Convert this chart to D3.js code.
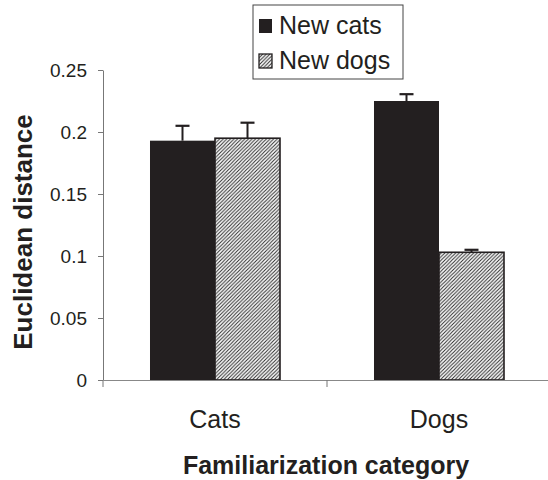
<html>
<head>
<script src="https://cdn.jsdelivr.net/npm/d3@7"></script>
<style>
  body { margin: 0; background: #fff; }
  text { font-family: Arial, "Liberation Sans", sans-serif; fill: #231f20; }
</style>
</head>
<body>
<script>
let categories = ["Cats", "Dogs"]
let series = ["New cats", "New dogs"]
let means = [[0.193, 0.195], [0.225, 0.103]]   // [category][series]
let errors = [[0.012, 0.0125], [0.0055, 0.002]]
let yTicks = [0, 0.05, 0.1, 0.15, 0.2, 0.25]
let yTickLabels = ["0", "0.05", "0.1", "0.15", "0.2", "0.25"]

let w = 548
let h = 480
let ink = "#231f20"

let svg = d3.select("body").append("svg")
    .attr("width", w).attr("height", h)

let defs = svg.append("defs")
let pat = defs.append("pattern")
    .attr("id", "hatch")
    .attr("patternUnits", "userSpaceOnUse")
    .attr("width", 3.6).attr("height", 3.6)
pat.append("rect").attr("width", 3.6).attr("height", 3.6).attr("fill", "#fff")
pat.append("path")
    .attr("d", "M-1,1 l2,-2 M0,3.6 l3.6,-3.6 M2.6,4.6 l2,-2")
    .attr("stroke", "#2a2a2a").attr("stroke-width", 1)

let x0 = d3.scaleBand().domain(categories).range([103, 551])
let x1 = d3.scaleBand().domain(series).range([0, x0.bandwidth()]).paddingOuter(0.723)
let y = d3.scaleLinear().domain([0, 0.25]).range([380, 70])

let fills = [ink, "url(#hatch)"]

// y axis
let yAxis = d3.axisLeft(y).tickValues(yTicks)
    .tickFormat((d, i) => yTickLabels[i]).tickSize(5).tickSizeOuter(0)
let ya = svg.append("g").attr("transform", "translate(103,0)").call(yAxis)
ya.select(".domain").attr("stroke", "#777")
ya.selectAll(".tick line").attr("stroke", "#777")
ya.selectAll(".tick text").attr("x", -16).attr("font-size", 19).attr("fill", ink)
    .attr("font-family", "Arial, 'Liberation Sans', sans-serif")

// bars
categories.forEach((c, ci) => {
    let g = svg.append("g").attr("transform", "translate(" + x0(c) + ",0)")
    series.forEach((s, si) => {
        g.append("rect")
            .attr("x", x1(s))
            .attr("y", y(means[ci][si]))
            .attr("width", x1.bandwidth())
            .attr("height", y(0) - y(means[ci][si]))
            .attr("fill", fills[si])
            .attr("stroke", ink)
            .attr("stroke-width", si === 1 ? 1.6 : 0)
        let cx = x1(s) + x1.bandwidth() / 2
        g.append("line")
            .attr("x1", cx).attr("x2", cx)
            .attr("y1", y(means[ci][si])).attr("y2", y(means[ci][si] + errors[ci][si]))
            .attr("stroke", ink).attr("stroke-width", 2)
        g.append("line")
            .attr("x1", cx - 7).attr("x2", cx + 7)
            .attr("y1", y(means[ci][si] + errors[ci][si])).attr("y2", y(means[ci][si] + errors[ci][si]))
            .attr("stroke", ink).attr("stroke-width", 2.2)
    })
})

// x axis
let xAxis = d3.axisBottom(x0).tickSize(0).tickSizeOuter(0).tickFormat("")
let xa = svg.append("g").attr("transform", "translate(0,380)").call(xAxis)
xa.select(".domain").attr("stroke", "#888")
// category separator ticks
let seps = [x0.range()[0], x0(categories[1])]
svg.selectAll(".sep").data(seps).enter().append("line")
    .attr("x1", d => d).attr("x2", d => d)
    .attr("y1", 380).attr("y2", 387)
    .attr("stroke", "#777")

svg.selectAll(".catlabel").data(categories).enter().append("text")
    .attr("x", d => x0(d) + x0.bandwidth() / 2)
    .attr("y", 428)
    .attr("text-anchor", "middle")
    .attr("font-size", 25)
    .text(d => d)

svg.append("text")
    .attr("x", 326).attr("y", 474)
    .attr("text-anchor", "middle")
    .attr("font-size", 25).attr("font-weight", "bold")
    .text("Familiarization category")

svg.append("text")
    .attr("transform", "translate(32,232) rotate(-90)")
    .attr("text-anchor", "middle")
    .attr("font-size", 26).attr("font-weight", "bold")
    .text("Euclidean distance")

// legend
let lg = svg.append("g")
lg.append("rect")
    .attr("x", 253).attr("y", 5).attr("width", 150).attr("height", 74)
    .attr("fill", "#fff").attr("stroke", "#444").attr("stroke-width", 1)
series.forEach((s, i) => {
    lg.append("rect")
        .attr("x", 259).attr("y", 19 + i * 35).attr("width", 13).attr("height", 14)
        .attr("fill", fills[i]).attr("stroke", ink).attr("stroke-width", i === 1 ? 1.3 : 0)
    lg.append("text")
        .attr("x", 279).attr("y", 34 + i * 35)
        .attr("font-size", 25)
        .text(s)
})
</script>
</body>
</html>
